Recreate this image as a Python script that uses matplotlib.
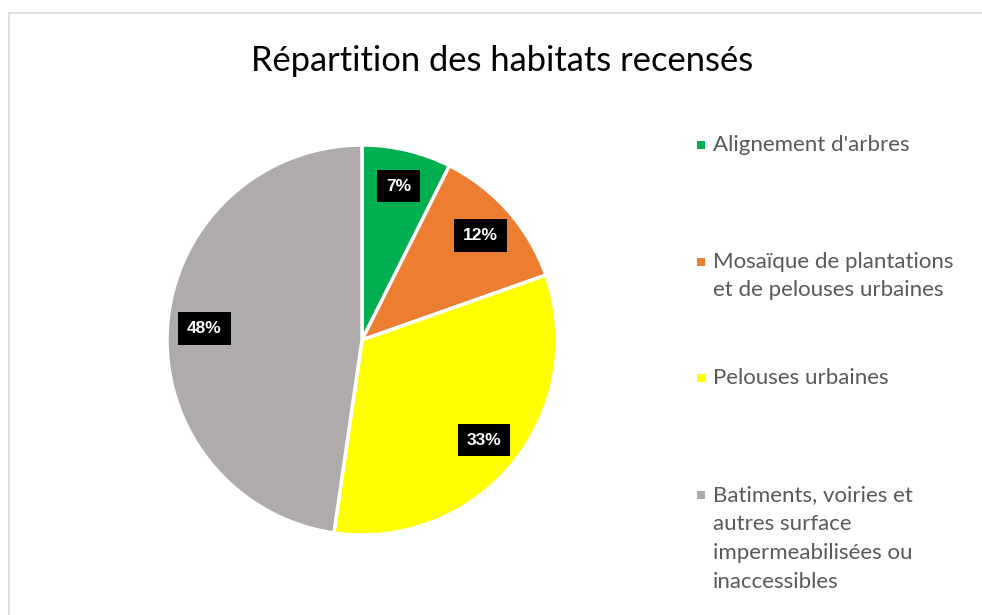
import matplotlib
matplotlib.use('Agg')
import matplotlib.pyplot as plt
from matplotlib.patches import Rectangle

categories = ["Alignement d'arbres",
              "Mosaïque de plantations\net de pelouses urbaines",
              "Pelouses urbaines",
              "Batiments, voiries et\nautres surface\nimpermeabilisées ou\ninaccessibles"]
values = [7.4, 12.2, 32.7, 47.7]
colors = ['#00b050', '#ed7d31', '#ffff00', '#afabab']
title = 'Répartition des habitats recensés'

W, H = 982, 615
fig = plt.figure(figsize=(W / 100, H / 100), dpi=100)

# light frame of the chart area
fig.patches.append(Rectangle((9 / W, -0.1), 1.1, (H - 13) / H + 0.1, transform=fig.transFigure,
                             fill=False, edgecolor='#d9d9d9', linewidth=1.2))

cx, cy, r = 362, 340, 195
ax = fig.add_axes([(cx - r) / W, (H - cy - r) / H, 2 * r / W, 2 * r / H])
wedges, texts, autotexts = ax.pie(values, colors=colors, startangle=90, counterclock=False,
                                  autopct=lambda p: f'{p:.0f}%', pctdistance=0.81,
                                  wedgeprops=dict(edgecolor='white', linewidth=2.5))
for t in autotexts:
    t.set_color('white')
    t.set_fontweight('bold')
    t.set_fontsize(12.5)
    t.set_family('Liberation Sans')
    t.set_bbox(dict(boxstyle='square,pad=0.5', facecolor='black', edgecolor='none'))
ax.set_xlim(-1, 1)
ax.set_ylim(-1, 1)
ax.set_aspect('equal')

fig.text(502 / W, 1 - 61 / H, title, ha='center', va='center', fontsize=24.8,
         family='Lato', color='black')

# legend entries
y0, step = 145, 116.7
for i, (lab, col) in enumerate(zip(categories, colors)):
    y = y0 + i * step
    fig.patches.append(Rectangle((697 / W, 1 - (y + 4) / H), 8 / W, 8 / H,
                                 transform=fig.transFigure, facecolor=col, edgecolor='none'))
    fig.text(713 / W, 1 - (y - 10) / H, lab, ha='left', va='top', fontsize=16,
             family='Lato', color='#595959', linespacing=1.55)

fig.savefig('out.png', dpi=100)
